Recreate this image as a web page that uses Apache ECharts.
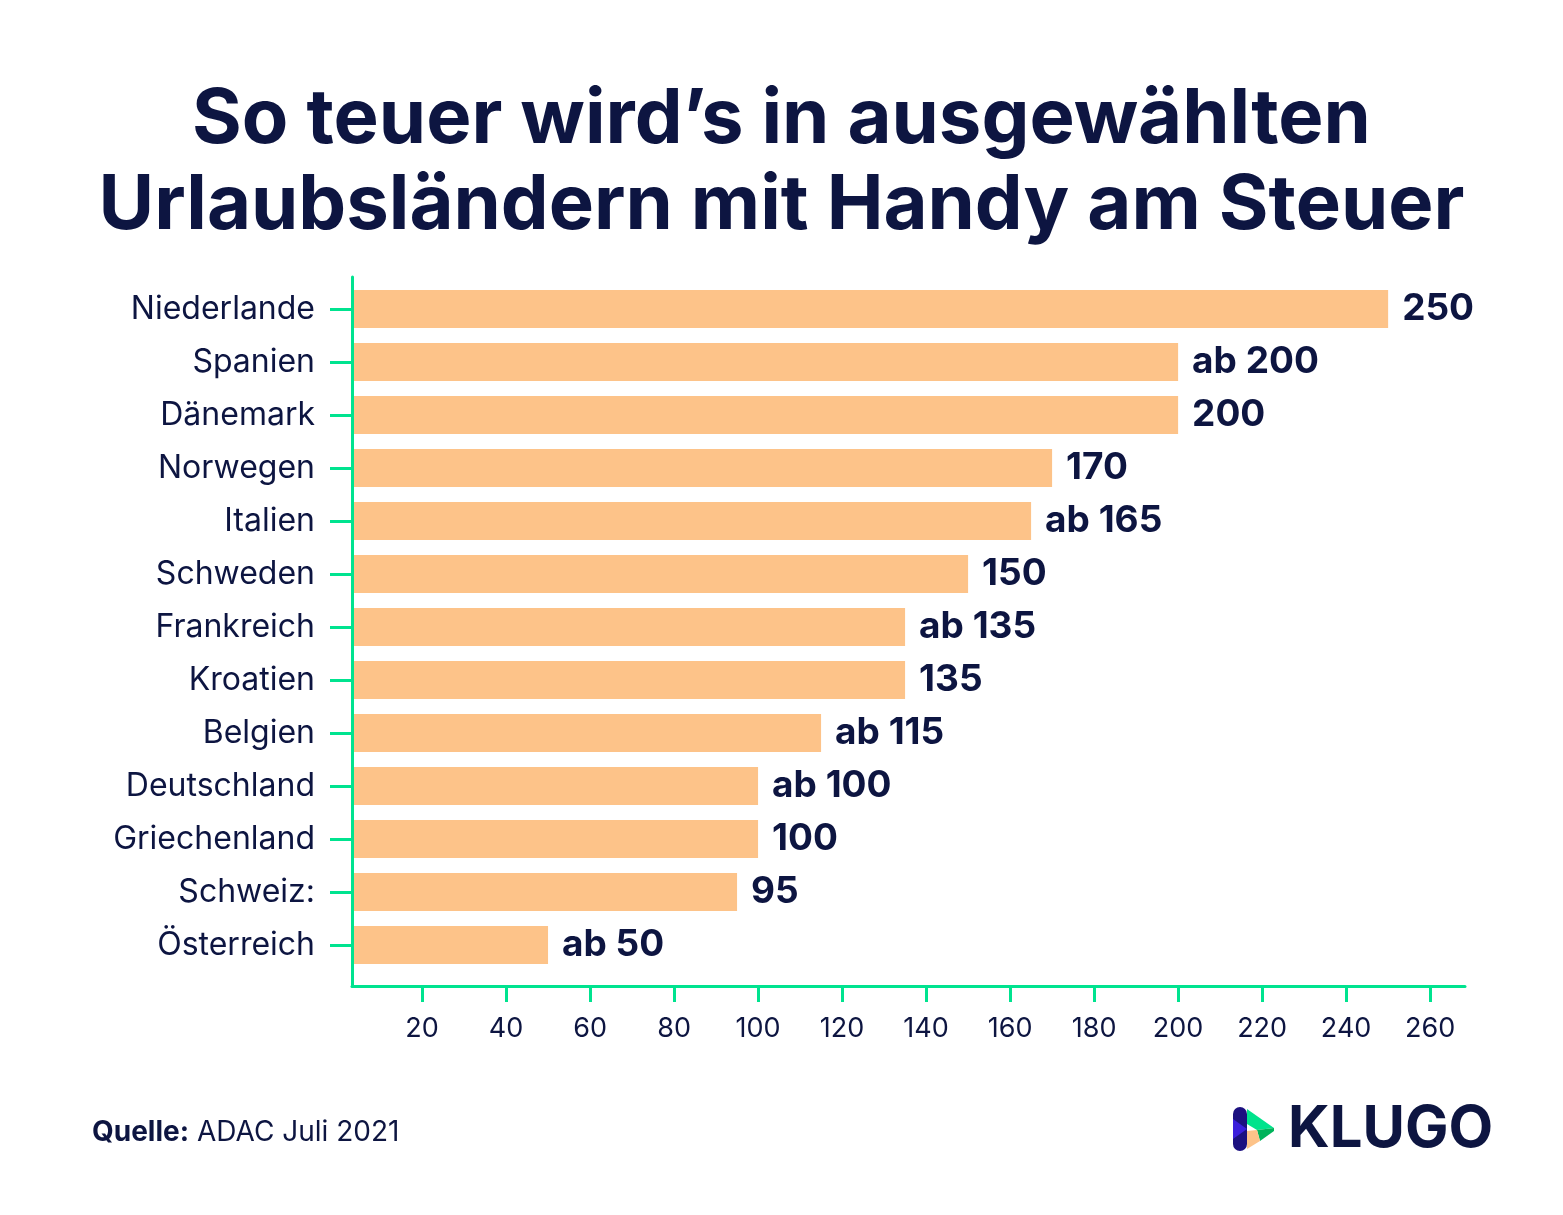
<!DOCTYPE html>
<html>
<head>
<meta charset="utf-8">
<title>Handy am Steuer</title>
<script src="https://cdn.jsdelivr.net/npm/echarts@6/dist/echarts.min.js"></script>
<style>
  html, body { margin: 0; padding: 0; background: #fff; }
  #chart { width: 1563px; height: 1215px; }
</style>
</head>
<body>
<div id="chart"></div>
<script>
// values
var countries = ['Niederlande', 'Spanien', 'Dänemark', 'Norwegen', 'Italien', 'Schweden',
  'Frankreich', 'Kroatien', 'Belgien', 'Deutschland', 'Griechenland', 'Schweiz:', 'Österreich'];
var fines = [250, 200, 200, 170, 165, 150, 135, 135, 115, 100, 100, 95, 50];
var prefixes = ['', 'ab ', '', '', 'ab ', '', 'ab ', '', 'ab ', 'ab ', '', '', 'ab '];
var xTicks = [20, 40, 60, 80, 100, 120, 140, 160, 180, 200, 220, 240, 260];

var navy = '#0d1541';
var green = '#00e38f';
var peach = '#fdc389';
var font = 'Inter, "Noto Sans", sans-serif';

var xMin = 3.33, xMax = 268.3;

var chart = echarts.init(document.getElementById('chart'));

var option = {
  backgroundColor: '#ffffff',
  animation: false,
  textStyle: { fontFamily: font },
  title: {
    text: 'So teuer wird’s in ausgewählten\nUrlaubsländern mit Handy am Steuer',
    left: 'center',
    top: 72,
    textStyle: {
      fontFamily: font,
      fontSize: 76,
      fontWeight: 'bold',
      color: navy,
      lineHeight: 86
    }
  },
  grid: [
    // bars + category labels
    { left: 352, top: 282.5, width: 1113, height: 689 },
    // axis lines, x ticks and labels
    { left: 352, top: 277, width: 1113, height: 709 }
  ],
  xAxis: [
    { gridIndex: 0, type: 'value', min: xMin, max: xMax, show: false },
    {
      gridIndex: 1, type: 'value', min: xMin, max: xMax, z: 5,
      splitLine: { show: false },
      axisLine: { show: true, lineStyle: { color: green, width: 3 } },
      axisTick: { show: true, length: 16, lineStyle: { color: green, width: 3 }, customValues: xTicks },
      axisLabel: { color: navy, fontSize: 27, margin: 29, customValues: xTicks }
    }
  ],
  yAxis: [
    {
      gridIndex: 0, type: 'category', data: countries, inverse: true,
      axisLine: { show: false },
      axisTick: { show: true, alignWithLabel: true, length: 22, lineStyle: { color: green, width: 3 } },
      axisLabel: { color: navy, fontSize: 32, margin: 37 }
    },
    {
      gridIndex: 1, type: 'category', data: countries, inverse: true, z: 5,
      axisLine: { show: true, lineStyle: { color: green, width: 3 } },
      axisTick: { show: false },
      axisLabel: { show: false }
    }
  ],
  series: [
    {
      type: 'bar',
      xAxisIndex: 0,
      yAxisIndex: 0,
      data: fines,
      barWidth: 38,
      itemStyle: { color: peach },
      label: {
        show: true,
        position: 'right',
        distance: 14,
        color: navy,
        fontSize: 37,
        fontWeight: 'bold',
        formatter: function (p) { return prefixes[p.dataIndex] + p.value; }
      }
    }
  ],
  graphic: [
    {
      type: 'text',
      left: 92,
      top: 1119,
      style: {
        text: '{b|Quelle:} ADAC Juli 2021',
        fontFamily: font,
        fontSize: 28,
        fill: navy,
        rich: { b: { fontFamily: font, fontSize: 28, fontWeight: 'bold', fill: navy } }
      }
    },
    {
      type: 'group',
      left: 1233,
      top: 1101,
      children: [
        { type: 'rect', shape: { x: 0, y: 0, width: 14, height: 44, r: 7 }, style: { fill: '#1c1180' } },
        { type: 'polygon', shape: { points: [[0, 12], [14, 22], [0, 32]] }, style: { fill: '#3b1fdc' } },
        { type: 'polygon', shape: { points: [[14, 2], [41, 21], [24, 23], [14, 17]] }, style: { fill: '#00e38c' } },
        { type: 'polygon', shape: { points: [[24, 23], [41, 21], [41, 24], [27, 34]] }, style: { fill: '#00b35a' } },
        { type: 'polygon', shape: { points: [[14, 24], [24, 23], [27, 34], [14, 42]] }, style: { fill: peach } },
        {
          type: 'text', x: 55, y: -6,
          style: { text: 'KLUGO', fontFamily: font, fontSize: 58, fontWeight: 'bold', fill: navy }
        }
      ]
    }
  ]
};

chart.setOption(option);
window.onresize = chart.resize;
</script>
</body>
</html>
